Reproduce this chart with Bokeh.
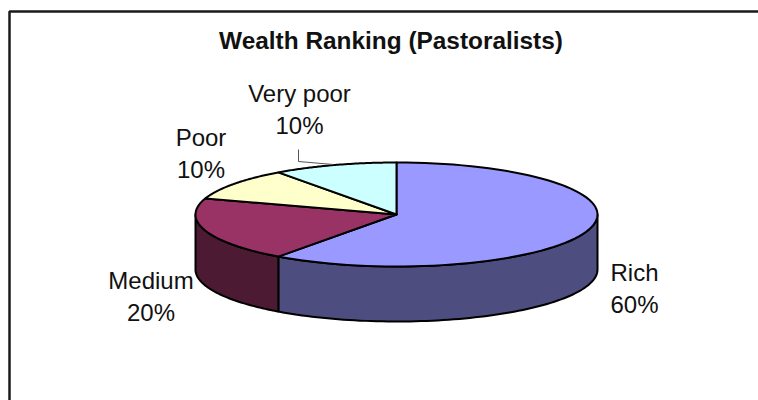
import numpy as np
from bokeh.plotting import figure
from bokeh.models import Range1d
from bokeh.core.properties import value
from bokeh.embed import file_html
from bokeh.resources import INLINE

categories = ["Rich", "Medium", "Poor", "Very poor"]
shares = [60, 20, 10, 10]
top_colors = ["#9999FF", "#993366", "#FFFFCC", "#CCFFFF"]
side_colors = ["#4D4D80", "#4D1A33", "#808066", "#668080"]
title = "Wealth Ranking (Pastoralists)"

CX, CY, RX, RY, DEPTH = 396, 214, 201, 52, 55
FONT = value("Liberation Sans")

p = figure(width=758, height=400, output_backend="svg", toolbar_location=None,
           x_range=Range1d(0, 758), y_range=Range1d(400, 0), min_border=0,
           outline_line_color=None, background_fill_color="white")
p.xaxis.visible = False
p.yaxis.visible = False
p.grid.visible = False


def arc(a0, a1, dy=0.0):
    t = np.radians(np.linspace(a0, a1, 80))
    return CX + RX * np.sin(t), CY + dy + RY * (-np.cos(t))


# chart frame (continues off the window to the right and below)
p.line([9, 9, 758], [400, 11, 11], line_color="#1a1a1a", line_width=2.5)

edges = np.concatenate([[0], np.cumsum(shares)]) * 360.0 / sum(shares)

# walls: only the front half of the disc (90 to 270 degrees) is visible
for i in range(len(shares)):
    a0, a1 = max(edges[i], 90), min(edges[i + 1], 270)
    if a0 >= a1:
        continue
    x_top, y_top = arc(a0, a1)
    x_bot, y_bot = arc(a1, a0, DEPTH)
    p.patch(np.concatenate([x_top, x_bot]), np.concatenate([y_top, y_bot]),
            fill_color=side_colors[i], line_color="black", line_width=2,
            line_join="round")

# top face
for i in range(len(shares)):
    x, y = arc(edges[i], edges[i + 1])
    p.patch(np.concatenate([[CX], x]), np.concatenate([[CY], y]),
            fill_color=top_colors[i], line_color="black", line_width=2,
            line_join="round")

# leader line for "Very poor"
p.line([298, 298, 333], [149, 161, 164], line_color="#555555", line_width=1)

# labels
label_x = [634, 150.5, 200.5, 299]
label_y = [272, 280, 137, 93]
LINE_GAP = 32
for name, s, lx, ly in zip(categories, shares, label_x, label_y):
    p.text([lx], [ly], text=[name], text_font=FONT, text_font_size="24px",
           text_align="center", text_baseline="middle", text_color="#111111")
    p.text([lx], [ly + LINE_GAP], text=[f"{s}%"], text_font=FONT, text_font_size="24px",
           text_align="center", text_baseline="middle", text_color="#111111")

p.text([390.5], [40], text=[title], text_font=FONT, text_font_size="24.4px",
       text_font_style="bold", text_align="center", text_baseline="middle",
       text_color="#111111")

open("out.html", "w").write(file_html(p, INLINE))
